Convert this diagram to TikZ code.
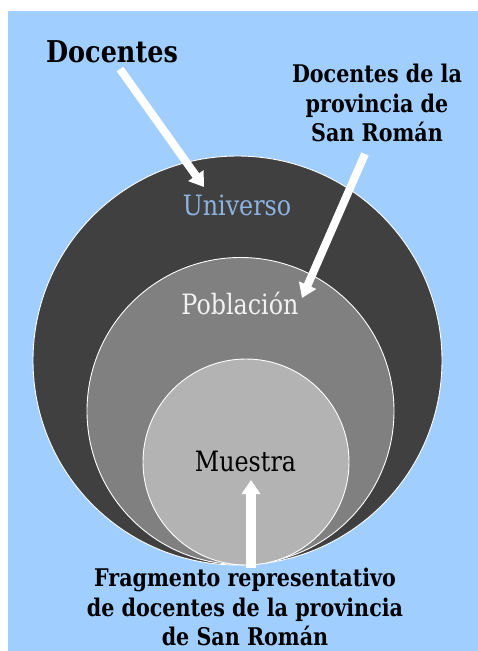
\documentclass[tikz,border=0pt]{standalone}
\usepackage{fontspec}
\setmainfont{DejaVu Serif}[FakeStretch=0.85]
\usetikzlibrary{arrows.meta}
\definecolor{bgblue}{RGB}{160,206,255}
\definecolor{ringA}{RGB}{64,64,64}
\definecolor{ringB}{RGB}{128,128,128}
\definecolor{ringC}{RGB}{179,179,179}
\definecolor{unicol}{RGB}{141,179,226}
\definecolor{pobcol}{RGB}{242,242,242}
\tikzset{
  ring/.style={circle, draw=white, line width=0.9pt, inner sep=0pt},
  ringtext/.style={font=\fontsize{28}{32}\selectfont, inner sep=0pt},
  labeltext/.style={font=\bfseries\fontsize{24.3}{29.5}\selectfont, align=center, inner sep=0pt},
  whitearrow/.style={draw=white, line width=#1, -{Triangle[width=18pt,length=14pt]}},
}
\begin{document}
\begin{tikzpicture}[x=1pt,y=-1pt]
\useasboundingbox (0,0) rectangle (478,651);
\fill[white] (0,0) rectangle (478,651);
\fill[bgblue] (8,11) rectangle (478,651);
% circles
\node[ring, fill=ringA, minimum size=409pt] (U) at (237.5,360.5) {};
\node[ring, fill=ringB, minimum size=307pt] (P) at (240.5,411) {};
\node[ring, fill=ringC, minimum size=206pt] (M) at (246,462) {};
% circle texts
\node[ringtext, text=unicol] (tU) at (237,205) {Universo};
\node[ringtext, text=pobcol] (tP) at (240,303) {Población};
\node[ringtext, text=black] (tM) at (245.5,461) {Muestra};
% labels
\node[font=\bfseries\fontsize{30}{34}\selectfont, inner sep=0pt] (lD) at (112,52) {Docentes};
\node[labeltext] (lP) at (377,103) {Docentes de la\\provincia de\\San Román};
\node[labeltext] (lM) at (245,607) {Fragmento representativo\\de docentes de la provincia\\de San Román};
% arrow end points
\coordinate (a1s) at (120,69);
\coordinate (a1e) at (204,187);
\coordinate (a2s) at (365,154);
\coordinate (a2e) at (302,298);
\coordinate (a3s) at (251,568);
\coordinate (a3e) at (251,480);
\draw[whitearrow=8pt] (a1s) -- (a1e);
\draw[whitearrow=8pt] (a2s) -- (a2e);
\draw[whitearrow=10pt] (a3s) -- (a3e);
\end{tikzpicture}
\end{document}
